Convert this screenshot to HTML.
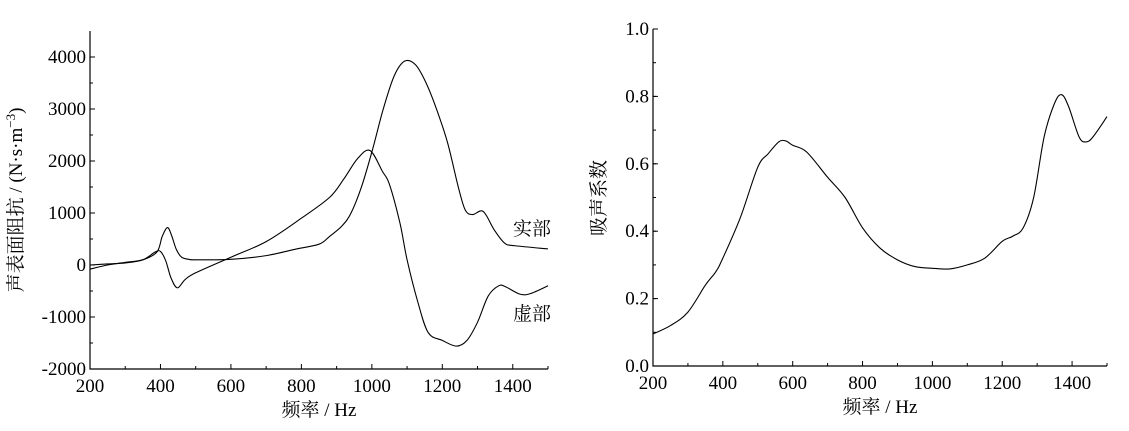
<!DOCTYPE html>
<html><head><meta charset="utf-8"><style>
body{margin:0;background:#fff}
svg text{font-family:"Liberation Serif","Noto Serif CJK SC",serif;fill:#000}
</style></head><body>
<svg width="1129" height="426" viewBox="0 0 1129 426" xmlns="http://www.w3.org/2000/svg">
<g id="left"></g>
<g id="right"></g>
</svg>
<script>
const freqReal=[200,250,300,350,390,405,420,432,445,460,480,500,600,700,780,850,880,915,941,971,1002,1032,1063,1093,1124,1154,1184,1215,1245,1265,1286,1316,1347,1377,1407,1500];
const realVals=[-80,0,50,100,250,550,720,560,300,150,110,100,110,180,300,400,550,750,1000,1510,2220,2990,3630,3920,3850,3500,2990,2350,1510,1060,970,1030,680,420,370,310];
const freqImag=[200,250,300,350,385,400,415,430,448,470,500,600,700,800,880,920,960,995,1030,1050,1080,1100,1130,1160,1200,1240,1270,1300,1330,1360,1380,1420,1450,1500];
const imagVals=[0,20,40,100,250,260,80,-250,-440,-280,-150,150,450,900,1300,1650,2050,2200,1800,1550,800,100,-700,-1300,-1450,-1560,-1450,-1100,-600,-400,-420,-560,-550,-400];
const freqAbs=[200,250,300,350,380,400,450,500,530,560,580,600,640,700,750,800,850,900,950,1000,1050,1100,1150,1200,1230,1260,1290,1320,1350,1370,1390,1420,1440,1460,1500];
const absVals=[0.095,0.12,0.16,0.24,0.28,0.32,0.44,0.59,0.63,0.665,0.668,0.655,0.635,0.56,0.5,0.41,0.35,0.315,0.295,0.29,0.288,0.3,0.32,0.37,0.385,0.41,0.5,0.68,0.78,0.805,0.77,0.68,0.665,0.68,0.74];
const xTicks=[200,400,600,800,1000,1200,1400];
const leftYTicks=[-2000,-1000,0,1000,2000,3000,4000];
const rightYTicks=[0,0.2,0.4,0.6,0.8,1.0];
const NS="http://www.w3.org/2000/svg";
function mk(parent,tag,attrs,text){const e=document.createElementNS(NS,tag);for(const k in attrs)e.setAttribute(k,attrs[k]);if(text!==undefined)e.textContent=text;parent.appendChild(e);return e;}
function lin(d0,d1,r0,r1){return v=>r0+(v-d0)/(d1-d0)*(r1-r0);}
function axes(g,x,y,x0,x1,yTop,yBot,yMin,yMax,yTicks,yMinorStep,fmt){
  const ax=mk(g,'path',{d:`M${x0},${yTop}V${yBot}H${x1}`,stroke:'#000','stroke-width':1.2,fill:'none'});
  
  for(let f=200;f<=1500;f+=100){const px=x(f);const t=mk(g,'line',{x1:px,x2:px,y1:yBot,y2:yBot-(f%200===0?5:3),stroke:'#000'});}
  xTicks.forEach(f=>{const t=mk(g,'text',{x:x(f),y:yBot+23,'text-anchor':'middle','font-size':19},String(f));});
  for(let v=yMin;v<=yMax+1e-9;v+=yMinorStep){const py=y(v);const t=mk(g,'line',{x1:x0,x2:x0+3,y1:py,y2:py,stroke:'#000'});}
  yTicks.forEach(v=>{const py=y(v);mk(g,'line',{x1:x0,x2:x0+5,y1:py,y2:py,stroke:'#000'});const t=mk(g,'text',{x:x0-4,y:py+6,'text-anchor':'end','font-size':19},fmt(v));});
  const xt=mk(g,'text',{x:(x0+x1)/2,y:yBot+47,'text-anchor':'middle','font-size':19},'频率 / Hz');
  
}
function line(g,fs,vs,x,y,name){
  const P=fs.map((f,i)=>[x(f),y(vs[i])]);
  let d='M'+P[0][0]+','+P[0][1];
  for(let i=0;i<P.length-1;i++){
    const p0=P[Math.max(0,i-1)],p1=P[i],p2=P[i+1],p3=P[Math.min(P.length-1,i+2)];
    const c1=[p1[0]+(p2[0]-p0[0])/6,p1[1]+(p2[1]-p0[1])/6];
    const c2=[p2[0]-(p3[0]-p1[0])/6,p2[1]-(p3[1]-p1[1])/6];
    d+=`C${c1[0]},${c1[1]} ${c2[0]},${c2[1]} ${p2[0]},${p2[1]}`;
  }
  const p=mk(g,'path',{d:d,fill:'none',stroke:'#000','stroke-width':1.1});
  
}
// left
const L=document.getElementById('left');
const lx=lin(200,1500,90,548), ly=lin(0,1000,265,213);
axes(L,lx,ly,90,548,31,369,-2000,4000,leftYTicks,500,v=>String(v));
line(L,freqReal,realVals,lx,ly,'real-part-line');
line(L,freqImag,imagVals,lx,ly,'imaginary-part-line');
let t=mk(L,'text',{x:513,y:235,'font-size':19},'实部');
t=mk(L,'text',{x:513,y:320,'font-size':19},'虚部');
t=mk(L,'text',{transform:'translate(22,200) rotate(-90)','text-anchor':'middle','font-size':19});
t.innerHTML='声表面阻抗 / (N·s·m<tspan dy="-7" font-size="13">−3</tspan><tspan dy="7">)</tspan>';
// right
const R=document.getElementById('right');
const rx=lin(200,1500,653,1107), ry=lin(0,1,366,29);
axes(R,rx,ry,653,1107,29,366,0,1,rightYTicks,0.1,v=>v.toFixed(1));
line(R,freqAbs,absVals,rx,ry,'absorption-line');
t=mk(R,'text',{transform:'translate(605,198) rotate(-90)','text-anchor':'middle','font-size':19},'吸声系数');
</script>
</body></html>
